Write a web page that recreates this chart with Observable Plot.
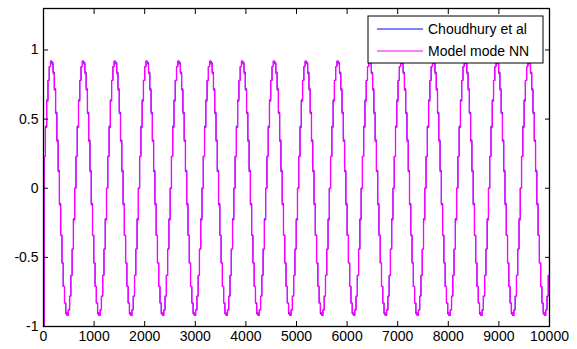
<!DOCTYPE html>
<html>
<head>
<meta charset="utf-8">
<script src="https://cdn.jsdelivr.net/npm/d3@7"></script>
<script src="https://cdn.jsdelivr.net/npm/@observablehq/plot@0.6"></script>
<style>
  html, body { margin: 0; padding: 0; background: #fff; }
</style>
</head>
<body>
<div id="chart"></div>
<script>
const xTicks = [0, 1000, 2000, 3000, 4000, 5000, 6000, 7000, 8000, 9000, 10000];
const yTicks = [-1, -0.5, 0, 0.5, 1];
const seriesNames = ["Choudhury et al", "Model mode NN"];
const sampleStep = 25.16;

const modelNN = [
-1,0.23,0.44,0.63,0.78,0.88,0.92,0.90,0.83,0.71,0.54,0.34,0.12,-0.12,-0.34,-0.54,-0.71,-0.83,-0.90,-0.92,-0.88,-0.78,-0.63,-0.44,-0.23,
0,0.23,0.44,0.63,0.78,0.88,0.92,0.90,0.83,0.71,0.54,0.34,0.12,-0.12,-0.34,-0.54,-0.71,-0.83,-0.90,-0.92,-0.88,-0.78,-0.63,-0.44,-0.23,
0,0.23,0.44,0.63,0.78,0.88,0.92,0.90,0.83,0.71,0.54,0.34,0.12,-0.12,-0.34,-0.54,-0.71,-0.83,-0.90,-0.92,-0.88,-0.78,-0.63,-0.44,-0.23,
0,0.23,0.44,0.63,0.78,0.88,0.92,0.90,0.83,0.71,0.54,0.34,0.12,-0.12,-0.34,-0.54,-0.71,-0.83,-0.90,-0.92,-0.88,-0.78,-0.63,-0.44,-0.23,
0,0.23,0.44,0.63,0.78,0.88,0.92,0.90,0.83,0.71,0.54,0.34,0.12,-0.12,-0.34,-0.54,-0.71,-0.83,-0.90,-0.92,-0.88,-0.78,-0.63,-0.44,-0.23,
0,0.23,0.44,0.63,0.78,0.88,0.92,0.90,0.83,0.71,0.54,0.34,0.12,-0.12,-0.34,-0.54,-0.71,-0.83,-0.90,-0.92,-0.88,-0.78,-0.63,-0.44,-0.23,
0,0.23,0.44,0.63,0.78,0.88,0.92,0.90,0.83,0.71,0.54,0.34,0.12,-0.12,-0.34,-0.54,-0.71,-0.83,-0.90,-0.92,-0.88,-0.78,-0.63,-0.44,-0.23,
0,0.23,0.44,0.63,0.78,0.88,0.92,0.90,0.83,0.71,0.54,0.34,0.12,-0.12,-0.34,-0.54,-0.71,-0.83,-0.90,-0.92,-0.88,-0.78,-0.63,-0.44,-0.23,
0,0.23,0.44,0.63,0.78,0.88,0.92,0.90,0.83,0.71,0.54,0.34,0.12,-0.12,-0.34,-0.54,-0.71,-0.83,-0.90,-0.92,-0.88,-0.78,-0.63,-0.44,-0.23,
0,0.23,0.44,0.63,0.78,0.88,0.92,0.90,0.83,0.71,0.54,0.34,0.12,-0.12,-0.34,-0.54,-0.71,-0.83,-0.90,-0.92,-0.88,-0.78,-0.63,-0.44,-0.23,
0,0.23,0.44,0.63,0.78,0.88,0.92,0.90,0.83,0.71,0.54,0.34,0.12,-0.12,-0.34,-0.54,-0.71,-0.83,-0.90,-0.92,-0.88,-0.78,-0.63,-0.44,-0.23,
0,0.23,0.44,0.63,0.78,0.88,0.92,0.90,0.83,0.71,0.54,0.34,0.12,-0.12,-0.34,-0.54,-0.71,-0.83,-0.90,-0.92,-0.88,-0.78,-0.63,-0.44,-0.23,
0,0.23,0.44,0.63,0.78,0.88,0.92,0.90,0.83,0.71,0.54,0.34,0.12,-0.12,-0.34,-0.54,-0.71,-0.83,-0.90,-0.92,-0.88,-0.78,-0.63,-0.44,-0.23,
0,0.23,0.44,0.63,0.78,0.88,0.92,0.90,0.83,0.71,0.54,0.34,0.12,-0.12,-0.34,-0.54,-0.71,-0.83,-0.90,-0.92,-0.88,-0.78,-0.63,-0.44,-0.23,
0,0.23,0.44,0.63,0.78,0.88,0.92,0.90,0.83,0.71,0.54,0.34,0.12,-0.12,-0.34,-0.54,-0.71,-0.83,-0.90,-0.92,-0.88,-0.78,-0.63,-0.44,-0.23,
0,0.23,0.44,0.63,0.78,0.88,0.92,0.90,0.83,0.71,0.54,0.34,0.12,-0.12,-0.34,-0.54,-0.71,-0.83,-0.90,-0.92,-0.88,-0.78,-0.63,-0.44
];

const choudhury = [
-1,0.23,0.45,0.64,0.78,0.88,0.92,0.91,0.84,0.72,0.55,0.35,0.13,-0.11,-0.34,-0.54,-0.71,-0.83,-0.91,-0.92,-0.88,-0.78,-0.63,-0.44,-0.22,
0,0.23,0.45,0.64,0.78,0.88,0.92,0.91,0.84,0.72,0.55,0.35,0.13,-0.11,-0.34,-0.54,-0.71,-0.83,-0.91,-0.92,-0.88,-0.78,-0.63,-0.44,-0.22,
0,0.23,0.45,0.64,0.78,0.88,0.92,0.91,0.84,0.72,0.55,0.35,0.13,-0.11,-0.34,-0.54,-0.71,-0.83,-0.91,-0.92,-0.88,-0.78,-0.63,-0.44,-0.22,
0,0.23,0.45,0.64,0.78,0.88,0.92,0.91,0.84,0.72,0.55,0.35,0.13,-0.11,-0.34,-0.54,-0.71,-0.83,-0.91,-0.92,-0.88,-0.78,-0.63,-0.44,-0.22,
0,0.23,0.45,0.64,0.78,0.88,0.92,0.91,0.84,0.72,0.55,0.35,0.13,-0.11,-0.34,-0.54,-0.71,-0.83,-0.91,-0.92,-0.88,-0.78,-0.63,-0.44,-0.22,
0,0.23,0.45,0.64,0.78,0.88,0.92,0.91,0.84,0.72,0.55,0.35,0.13,-0.11,-0.34,-0.54,-0.71,-0.83,-0.91,-0.92,-0.88,-0.78,-0.63,-0.44,-0.22,
0,0.23,0.45,0.64,0.78,0.88,0.92,0.91,0.84,0.72,0.55,0.35,0.13,-0.11,-0.34,-0.54,-0.71,-0.83,-0.91,-0.92,-0.88,-0.78,-0.63,-0.44,-0.22,
0,0.23,0.45,0.64,0.78,0.88,0.92,0.91,0.84,0.72,0.55,0.35,0.13,-0.11,-0.34,-0.54,-0.71,-0.83,-0.91,-0.92,-0.88,-0.78,-0.63,-0.44,-0.22,
0,0.23,0.45,0.64,0.78,0.88,0.92,0.91,0.84,0.72,0.55,0.35,0.13,-0.11,-0.34,-0.54,-0.71,-0.83,-0.91,-0.92,-0.88,-0.78,-0.63,-0.44,-0.22,
0,0.23,0.45,0.64,0.78,0.88,0.92,0.91,0.84,0.72,0.55,0.35,0.13,-0.11,-0.34,-0.54,-0.71,-0.83,-0.91,-0.92,-0.88,-0.78,-0.63,-0.44,-0.22,
0,0.23,0.45,0.64,0.78,0.88,0.92,0.91,0.84,0.72,0.55,0.35,0.13,-0.11,-0.34,-0.54,-0.71,-0.83,-0.91,-0.92,-0.88,-0.78,-0.63,-0.44,-0.22,
0,0.23,0.45,0.64,0.78,0.88,0.92,0.91,0.84,0.72,0.55,0.35,0.13,-0.11,-0.34,-0.54,-0.71,-0.83,-0.91,-0.92,-0.88,-0.78,-0.63,-0.44,-0.22,
0,0.23,0.45,0.64,0.78,0.88,0.92,0.91,0.84,0.72,0.55,0.35,0.13,-0.11,-0.34,-0.54,-0.71,-0.83,-0.91,-0.92,-0.88,-0.78,-0.63,-0.44,-0.22,
0,0.23,0.45,0.64,0.78,0.88,0.92,0.91,0.84,0.72,0.55,0.35,0.13,-0.11,-0.34,-0.54,-0.71,-0.83,-0.91,-0.92,-0.88,-0.78,-0.63,-0.44,-0.22,
0,0.23,0.45,0.64,0.78,0.88,0.92,0.91,0.84,0.72,0.55,0.35,0.13,-0.11,-0.34,-0.54,-0.71,-0.83,-0.91,-0.92,-0.88,-0.78,-0.63,-0.44,-0.22,
0,0.23,0.45,0.64,0.78,0.88,0.92,0.91,0.84,0.72,0.55,0.35,0.13,-0.11,-0.34,-0.54,-0.71,-0.83,-0.91,-0.92,-0.88,-0.78,-0.63,-0.44
];

const rows = modelNN.map((v, i) => ({ t: i * sampleStep, model: v, ch: choudhury[i] }));

const W = 577, H = 349;
const mL = 43, mR = 28, mT = 8, mB = 23;
const font = "'Liberation Sans', Arial, Helvetica, sans-serif";
const noLabel = () => "";

const chart = Plot.plot({
  width: W, height: H,
  marginLeft: mL, marginRight: mR, marginTop: mT, marginBottom: mB,
  style: { fontFamily: font, fontSize: "14px", background: "#fff", color: "#000", overflow: "visible" },
  x: { domain: [0, 10000] },
  y: { domain: [-1, 1.3] },
  marks: [
    Plot.line(rows, { x: "t", y: "ch", curve: "step", stroke: "#0000ff", strokeWidth: 1, clip: true }),
    Plot.line(rows, { x: "t", y: "model", curve: "step", stroke: "#ff00ff", strokeWidth: 1.3, clip: true }),
    Plot.axisX({ ticks: xTicks, anchor: "bottom", tickSize: 0, tickPadding: 5, tickFormat: d => String(d), label: null, fontSize: 14 }),
    Plot.axisX({ ticks: xTicks, anchor: "bottom", tickSize: 5, dy: -5, tickFormat: noLabel, label: null }),
    Plot.axisX({ ticks: xTicks, anchor: "top", tickSize: 5, dy: 5, tickFormat: noLabel, label: null }),
    Plot.axisY({ ticks: yTicks, anchor: "left", tickSize: 0, tickPadding: 5, tickFormat: d => String(d), label: null, fontSize: 14 }),
    Plot.axisY({ ticks: yTicks, anchor: "left", tickSize: 5, dx: 5, tickFormat: noLabel, label: null }),
    Plot.axisY({ ticks: yTicks, anchor: "right", tickSize: 5, dx: -5, tickFormat: noLabel, label: null }),
    Plot.frame({ stroke: "#000", strokeWidth: 1.3 })
  ]
});

// legend inside the plot area (top-right)
const svg = d3.select(chart);
const lg = svg.append("g").attr("font-family", font).attr("font-size", 14).attr("text-anchor", "start");
lg.append("rect").attr("x", 368).attr("y", 16).attr("width", 175).attr("height", 47)
  .attr("fill", "#fff").attr("stroke", "#000").attr("stroke-width", 1);
const legendColors = ["#0000ff", "#ff00ff"];
seriesNames.forEach((name, i) => {
  const cy = 29 + i * 22;
  lg.append("line").attr("x1", 377).attr("x2", 423).attr("y1", cy).attr("y2", cy)
    .attr("stroke", legendColors[i]).attr("stroke-width", 1);
  lg.append("text").attr("x", 428).attr("y", cy).attr("dy", "0.35em")
    .attr("text-anchor", "start").attr("fill", "#000").text(name);
});

document.getElementById("chart").appendChild(chart);
</script>
</body>
</html>
